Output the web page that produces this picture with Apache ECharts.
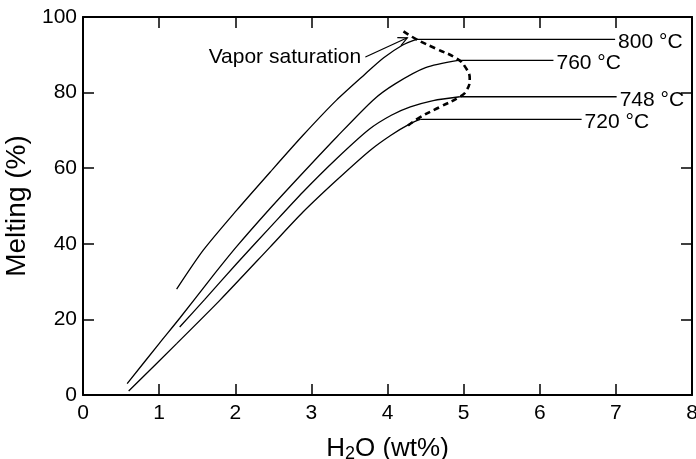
<!DOCTYPE html>
<html>
<head>
<meta charset="utf-8">
<script src="https://cdn.jsdelivr.net/npm/echarts@6/dist/echarts.min.js"></script>
<style>html,body{margin:0;padding:0;background:#fff}#c{width:696px;height:459px}</style>
</head>
<body>
<div id="c"></div>
<script>
// ---- data ----
var xTicks = [0, 1, 2, 3, 4, 5, 6, 7, 8];
var yTicks = [0, 20, 40, 60, 80, 100];

var curve800 = [[1.23,28],[1.58,38.3],[2.02,48.9],[2.46,59],[2.89,68.7],[3.33,78],[3.7,84.8],[3.95,89.2],[4.2,92.6],[4.38,94.1]];
var curve760 = [[0.58,3],[1.0,13.6],[1.27,20.3],[1.67,30.6],[2.02,39.3],[2.46,49.4],[2.89,58.8],[3.33,68.2],[3.81,78],[4.1,82.3],[4.5,86.6],[4.93,88.5]];
var curve748 = [[1.27,18],[1.6,25.3],[2.02,34.8],[2.46,44.4],[2.89,53.7],[3.33,62.5],[3.76,70.3],[4.05,74],[4.3,76.2],[4.6,77.9],[4.95,78.9]];
var curve720 = [[0.6,1.06],[1.23,13.6],[1.80,25.1],[2.46,39.2],[2.89,48.4],[3.33,56.8],[3.77,64.7],[4.05,68.8],[4.3,71.8],[4.43,72.9]];

var level800 = [[4.38,94.1],[6.99,94.1]];
var level760 = [[4.93,88.5],[6.18,88.5]];
var level748 = [[4.95,78.9],[7.01,78.9]];
var level720 = [[4.43,72.9],[6.55,72.9]];
var levelLabels = ['800 °C', '760 °C', '748 °C', '720 °C'];

var vaporSaturation = [[4.21,96.2],[4.38,94.1],[4.65,91.5],[4.91,89.0],[5.02,86.8],[5.08,83.7],[5.04,80.6],[4.95,78.9],[4.69,76.2],[4.43,73.5],[4.27,71.3]];
var arrowFrom = [3.71, 89.4];
var arrowTo = [4.26, 94.5];
var annotationText = 'Vapor saturation';

// ---- chart ----
var FONT = '"Liberation Sans", Arial, Helvetica, sans-serif';
var chart = echarts.init(document.getElementById('c'), null, {renderer: 'canvas'});

function curveSeries(d) {
  return {type: 'line', data: d, smooth: 0.25, symbol: 'none', silent: true,
    lineStyle: {color: '#000', width: 1.3}, z: 3};
}
function levelSeries(d, txt) {
  return {type: 'line', data: d, symbol: 'none', silent: true,
    lineStyle: {color: '#000', width: 1.3}, z: 3,
    endLabel: {show: true, formatter: txt, distance: 3, offset: [0, 3],
      color: '#000', fontSize: 21, fontFamily: FONT}};
}

var axisCommon = {
  min: 0, type: 'value',
  axisLine: {show: true, onZero: false, lineStyle: {color: '#000', width: 2}},
  axisTick: {show: true, inside: true, length: 11, lineStyle: {color: '#000', width: 1.5}},
  splitLine: {show: false}
};

var option = {
  backgroundColor: '#fff',
  animation: false,
  grid: {left: 83, right: 4, top: 17, bottom: 64, containLabel: false, outerBoundsMode: 'none'},
  xAxis: [
    Object.assign({}, axisCommon, {
      max: 8, interval: 1, position: 'bottom',
      axisLabel: {color: '#000', fontSize: 21, fontFamily: FONT, margin: 8},
      name: '{a|H}{b|2}{a|O (wt%)}', nameLocation: 'middle', nameGap: 40,
      nameTextStyle: {color: '#000', fontFamily: FONT, rich: {
        a: {fontSize: 26, fontFamily: FONT, color: '#000'},
        b: {fontSize: 18, fontFamily: FONT, color: '#000', padding: [10, 0, 0, 0]}
      }}
    }),
    Object.assign({}, axisCommon, {max: 8, interval: 1, position: 'top', axisLabel: {show: false}})
  ],
  yAxis: [
    Object.assign({}, axisCommon, {
      max: 100, interval: 20, position: 'left',
      axisLabel: {color: '#000', fontSize: 21, fontFamily: FONT, margin: 6},
      name: 'Melting (%)', nameLocation: 'middle', nameGap: 46,
      nameTextStyle: {color: '#000', fontSize: 28, fontFamily: FONT}
    }),
    Object.assign({}, axisCommon, {max: 100, interval: 20, position: 'right', axisLabel: {show: false}})
  ],
  series: [
    curveSeries(curve800), curveSeries(curve760), curveSeries(curve748), curveSeries(curve720),
    levelSeries(level800, levelLabels[0]), levelSeries(level760, levelLabels[1]),
    levelSeries(level748, levelLabels[2]), levelSeries(level720, levelLabels[3]),
    {type: 'line', data: vaporSaturation, smooth: 0.5, symbol: 'none', silent: true,
      lineStyle: {color: '#000', width: 2.6, type: [6, 4]}, z: 4},
    {type: 'line', data: [arrowFrom, arrowTo], symbol: 'none', silent: true,
      lineStyle: {color: '#000', width: 1.2}, z: 4},
    {type: 'scatter', silent: true, data: [{value: arrowFrom}], symbolSize: 0.5,
      itemStyle: {color: '#000'},
      label: {show: true, position: 'left', distance: 4, formatter: annotationText,
        color: '#000', opacity: 1, textBorderWidth: 0, fontSize: 21, fontFamily: FONT}}
  ]
};
chart.setOption(option);

// open arrowhead at the arrow's end, oriented along the arrow (positions come from the axes)
var pA = chart.convertToPixel({gridIndex: 0}, arrowFrom);
var pB = chart.convertToPixel({gridIndex: 0}, arrowTo);
var ang = Math.atan2(pB[1] - pA[1], pB[0] - pA[0]);
var L = 10, W = 0.45;
var h1 = [pB[0] - L * Math.cos(ang - W), pB[1] - L * Math.sin(ang - W)];
var h2 = [pB[0] - L * Math.cos(ang + W), pB[1] - L * Math.sin(ang + W)];
chart.setOption({graphic: [{type: 'polyline', shape: {points: [h1, pB, h2]},
  style: {stroke: '#000', lineWidth: 1.2, fill: null}, z: 10}]});
</script>
</body>
</html>
